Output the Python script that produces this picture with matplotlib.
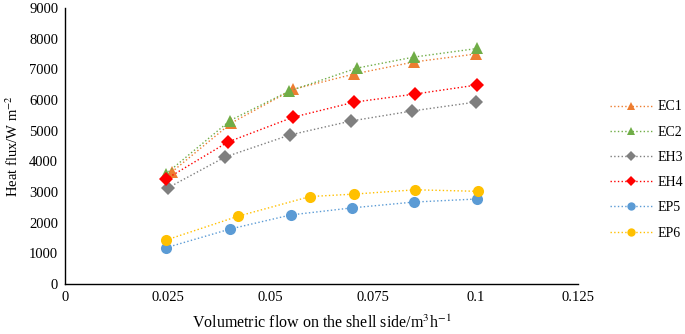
import matplotlib.pyplot as plt

plt.rcParams["font.family"] = ["Liberation Serif", "DejaVu Serif"]
plt.rcParams["mathtext.fontset"] = "stix"

# series: flow rate (m3/h) and heat flux (W/m2)
ec1_x = [0.026, 0.0405, 0.0556, 0.0705, 0.085, 0.1]
ec1_y = [3650, 5250, 6350, 6850, 7240, 7500]
ec2_x = [0.0245, 0.0402, 0.0546, 0.0711, 0.085, 0.1004]
ec2_y = [3580, 5330, 6290, 7040, 7400, 7680]
eh3_x = [0.025, 0.039, 0.0548, 0.0697, 0.0845, 0.1]
eh3_y = [3130, 4140, 4860, 5315, 5640, 5930]
eh4_x = [0.0246, 0.0397, 0.0556, 0.0705, 0.0853, 0.1004]
eh4_y = [3420, 4630, 5440, 5930, 6195, 6490]
ep5_x = [0.0246, 0.0402, 0.055, 0.0699, 0.085, 0.1004]
ep5_y = [1180, 1790, 2250, 2480, 2670, 2770]
ep6_x = [0.0246, 0.0422, 0.0597, 0.0705, 0.0853, 0.1006]
ep6_y = [1430, 2210, 2850, 2930, 3070, 3020]

x_ticks = [0, 0.025, 0.05, 0.075, 0.1, 0.125]
x_labels = ["0", "0.025", "0.05", "0.075", "0.1", "0.125"]
y_ticks = list(range(0, 9001, 1000))

fig = plt.figure(figsize=(6.85, 3.34), dpi=100)
ax = fig.add_axes([0.095, 0.15, 0.749, 0.826])

series = [
    ("EC1", ec1_x, ec1_y, "#ED7D31", "^", 8.5),
    ("EC2", ec2_x, ec2_y, "#70AD47", "^", 8.5),
    ("EH3", eh3_x, eh3_y, "#7F7F7F", "D", 7),
    ("EH4", eh4_x, eh4_y, "#FF0000", "D", 7),
    ("EP5", ep5_x, ep5_y, "#5B9BD5", "o", 8),
    ("EP6", ep6_x, ep6_y, "#FFC000", "o", 8),
]

for name, xs, ys, color, marker, ms in series:
    ax.plot(xs, ys, color=color, linestyle=":", linewidth=1.0,
            marker=marker, markersize=ms, markeredgewidth=0, label=name)

ax.set_xlim(0, 0.125)
ax.set_ylim(0, 9000)
ax.set_xticks(x_ticks)
ax.set_xticklabels(x_labels)
ax.set_yticks(y_ticks)
ax.tick_params(length=0, labelsize=10.5, pad=5)

for side in ["top", "right"]:
    ax.spines[side].set_visible(False)
for side in ["left", "bottom"]:
    ax.spines[side].set_linewidth(1.0)

ax.set_xlabel("Volumetric flow on the shell side/m$^{3}$h$^{-1}$", fontsize=11.5, labelpad=8)
ax.set_ylabel("Heat flux/W m$^{-2}$", fontsize=10.5, labelpad=6)

ax.legend(loc="center left", bbox_to_anchor=(1.038, 0.413), frameon=False,
          fontsize=10, markerscale=0.75, handlelength=3.0, handletextpad=0.4,
          labelspacing=0.88)

fig.savefig("out.png", dpi=100)
